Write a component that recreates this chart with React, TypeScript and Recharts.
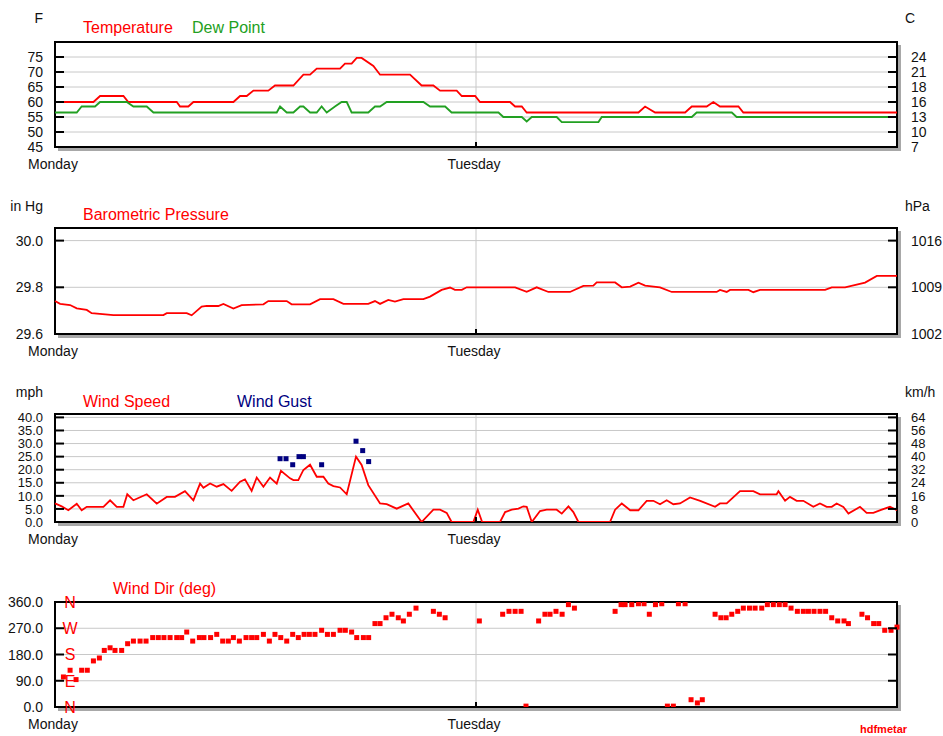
import React from "react";
import {
  ComposedChart,
  Line,
  Scatter,
  XAxis,
  YAxis,
  CartesianGrid,
  ReferenceArea,
} from "recharts";

const W = 943;
const FONT = '"Liberation Sans", Arial, Helvetica, sans-serif';
const RED = "#ff0000";
const GREEN = "#22a022";
const NAVY = "#000080";
const GRID = "#c8c8c8";

// x values are hours since Monday 00:00
const dayTicks = [0, 24];
const dayNames = ["Monday", "Tuesday"];

const tempF: [number, number][] = [
  [0, 60], [2.19, 60], [2.57, 62], [3.9, 62], [4.18, 60], [6.94, 60], [7.13, 58.5],
  [7.6, 58.5], [7.89, 60], [10.17, 60], [10.55, 62], [10.93, 62], [11.31, 63.8],
  [12.16, 63.8], [12.54, 65.5], [13.59, 65.5], [14.16, 69.1], [14.54, 69.1],
  [14.92, 71.1], [16.25, 71.1], [16.53, 72.8], [16.91, 72.8], [17.2, 74.7],
  [17.48, 74.7], [18.15, 72], [18.53, 69.1], [20.24, 69.1], [20.9, 65.5],
  [21.57, 65.5], [21.95, 63.8], [22.9, 63.8], [23.19, 62], [23.95, 62], [24.23, 60],
  [25.94, 60], [26.23, 58.5], [26.61, 58.5], [26.89, 56.5], [33.26, 56.5],
  [33.64, 58.5], [34.21, 56.5], [35.92, 56.5], [36.3, 58.5], [37.15, 58.5],
  [37.53, 60], [37.91, 58.5], [38.96, 58.5], [39.24, 56.5], [48, 56.5],
];

const dewF: [number, number][] = [
  [0, 56.5], [1.24, 56.5], [1.52, 58.5], [2.28, 58.5], [2.57, 60], [4.09, 60],
  [4.47, 58.5], [5.23, 58.5], [5.61, 56.5], [12.64, 56.5], [12.83, 58.5],
  [13.21, 56.5], [13.59, 56.5], [13.97, 58.5], [14.16, 58.5], [14.54, 56.5],
  [14.92, 56.5], [15.2, 58.5], [15.49, 56.5], [15.96, 58.5], [16.34, 60],
  [16.63, 60], [16.91, 56.5], [17.86, 56.5], [18.24, 58.5], [18.53, 58.5],
  [18.91, 60], [21, 60], [21.38, 58.5], [22.24, 58.5], [22.61, 56.5], [25.28, 56.5],
  [25.56, 55], [26.61, 55], [26.89, 53.5], [27.18, 55], [28.6, 55], [28.89, 53.3],
  [30.98, 53.3], [31.17, 55], [36.3, 55], [36.58, 56.5], [38.58, 56.5],
  [38.86, 55], [48, 55],
];

const pressureInHg: [number, number][] = [
  [0, 29.741], [0.29, 29.729], [0.86, 29.724], [1.24, 29.71], [1.81, 29.703],
  [2.09, 29.689], [3.33, 29.681], [6.18, 29.681], [6.37, 29.689], [7.51, 29.689],
  [7.79, 29.68], [8.36, 29.717], [8.65, 29.72], [9.31, 29.72], [9.6, 29.729],
  [10.17, 29.709], [10.64, 29.724], [11.88, 29.727], [12.16, 29.741],
  [13.21, 29.741], [13.49, 29.727], [14.54, 29.727], [15.11, 29.749],
  [15.87, 29.749], [16.44, 29.729], [17.86, 29.729], [18.24, 29.741],
  [18.53, 29.729], [19.0, 29.746], [19.38, 29.739], [19.86, 29.749], [21.0, 29.749],
  [21.38, 29.76], [22.04, 29.789], [22.52, 29.799], [22.8, 29.789], [23.19, 29.789],
  [23.47, 29.8], [26.23, 29.8], [26.89, 29.781], [27.46, 29.8], [28.13, 29.78],
  [29.36, 29.78], [30.12, 29.806], [30.69, 29.807], [30.88, 29.821], [31.93, 29.821],
  [32.31, 29.8], [32.79, 29.803], [33.26, 29.82], [33.64, 29.807], [34.49, 29.8],
  [35.16, 29.78], [37.72, 29.78], [37.91, 29.789], [38.29, 29.78], [38.48, 29.789],
  [39.53, 29.789], [39.81, 29.779], [40.19, 29.789], [43.9, 29.789], [44.28, 29.8],
  [45.04, 29.8], [46.18, 29.82], [46.85, 29.849], [48, 29.849],
];

const windMph: [number, number][] = [
  [0, 7.1], [0.38, 6], [0.76, 4.5], [1.24, 7], [1.52, 4.5], [1.81, 5.8], [2.76, 5.8],
  [3.14, 8.3], [3.52, 5.8], [3.9, 5.8], [4.12, 10.6], [4.47, 8.3], [5.23, 10.6],
  [5.8, 7], [6.37, 9.6], [6.84, 9.6], [7.41, 11.8], [7.89, 8.3], [8.27, 14.7],
  [8.46, 13.1], [8.84, 14.7], [9.22, 13.5], [9.6, 14.5], [10.07, 11.9], [10.55, 15.4],
  [10.83, 16.3], [11.21, 11.9], [11.5, 17], [11.88, 13.5], [12.26, 17], [12.64, 14.7],
  [12.88, 19.6], [13.4, 16.7], [13.59, 16], [13.87, 16], [14.16, 19.9], [14.54, 21.9],
  [14.92, 17.3], [15.3, 17.3], [15.58, 14.7], [15.87, 13.7], [16.25, 13.2],
  [16.63, 10.6], [17.16, 25], [17.48, 21.8], [17.86, 14.1], [18.53, 7.1],
  [18.91, 6.8], [19.48, 5.1], [20.14, 7.1], [20.9, 0], [21.57, 4.7], [21.95, 4.7],
  [22.33, 3.5], [22.61, 0], [23.85, 0], [24.1, 4.7], [24.35, 0], [25.37, 0],
  [25.66, 3.8], [26.04, 4.7], [26.42, 5.1], [26.7, 6], [26.89, 5.8], [27.18, 0],
  [27.65, 4.2], [28.03, 4.7], [28.6, 4.7], [28.89, 3.2], [29.27, 6], [29.55, 3.8],
  [29.84, 0], [31.64, 0], [31.93, 4.7], [32.31, 7.1], [32.79, 4.5], [33.26, 4.5],
  [33.73, 8.1], [34.11, 8.1], [34.49, 6.8], [34.87, 8.3], [35.25, 6.8], [35.63, 7.1],
  [36.2, 9.4], [36.78, 8.1], [37.63, 5.8], [37.91, 7.1], [38.29, 7.1], [39.05, 11.8],
  [39.81, 11.8], [40.19, 10.6], [41.14, 10.6], [41.24, 11.8], [41.62, 8.1],
  [41.9, 9.6], [42.28, 8.1], [42.66, 8.1], [43.23, 5.8], [43.61, 7.1], [43.99, 5.8],
  [44.28, 5.8], [44.56, 7.1], [44.94, 5.8], [45.23, 3.2], [45.89, 5.8], [46.27, 3.5],
  [46.65, 3.5], [47.13, 4.7], [47.6, 5.8], [48, 4.5],
];

const gustMph: [number, number][] = [
  [12.83, 24.2], [13.17, 24.2], [13.55, 21.9], [13.91, 25], [14.16, 25],
  [15.2, 21.9], [17.16, 30.9], [17.54, 27.3], [17.88, 23.1],
];

const windDirDeg: [number, number][] = [
  [0.48, 103], [0.86, 126], [1.2, 94], [1.52, 126], [1.84, 126], [2.19, 158],
  [2.53, 168], [2.81, 194], [3.14, 203], [3.42, 194], [3.8, 194], [4.14, 217],
  [4.47, 226], [4.85, 226], [5.19, 226], [5.57, 238], [5.89, 238], [6.21, 238],
  [6.56, 238], [6.94, 238], [7.22, 238], [7.51, 257], [7.85, 226], [8.23, 238],
  [8.49, 238], [8.87, 238], [9.22, 249], [9.56, 226], [9.88, 226], [10.17, 238],
  [10.51, 226], [10.89, 238], [11.21, 238], [11.5, 238], [11.88, 249], [12.22, 226],
  [12.54, 249], [12.87, 238], [13.21, 226], [13.55, 249], [13.87, 238], [14.2, 249],
  [14.5, 249], [14.82, 249], [15.2, 263], [15.53, 249], [15.87, 249], [16.25, 263],
  [16.55, 263], [16.91, 257], [17.2, 238], [17.58, 238], [17.88, 238], [18.24, 286],
  [18.53, 286], [18.87, 306], [19.21, 318], [19.57, 306], [19.86, 295], [20.2, 318],
  [20.58, 339], [21.57, 328], [21.91, 318], [22.24, 306], [24.19, 295], [25.52, 318],
  [25.88, 328], [26.23, 328], [26.57, 328], [26.85, 3], [27.57, 295], [27.93, 318],
  [28.22, 318], [28.56, 328], [28.91, 318], [29.27, 351], [29.61, 339], [31.93, 328],
  [32.27, 351], [32.5, 351], [32.88, 351], [33.26, 354], [33.58, 354], [33.88, 318],
  [34.23, 351], [34.59, 354], [34.91, 3], [35.25, 3], [35.54, 354], [35.92, 354],
  [36.26, 25], [36.62, 14], [36.9, 25], [37.63, 318], [37.96, 306], [38.26, 306],
  [38.58, 318], [38.92, 328], [39.24, 339], [39.59, 339], [39.91, 339], [40.29, 339],
  [40.61, 351], [40.95, 351], [41.29, 351], [41.62, 351], [41.96, 339], [42.32, 328],
  [42.66, 328], [42.95, 328], [43.27, 328], [43.61, 328], [43.93, 328], [44.28, 306],
  [44.62, 295], [44.98, 295], [45.23, 286], [46.0, 318], [46.32, 306], [46.67, 286],
  [46.96, 286], [47.3, 263], [47.66, 263], [48.0, 274],
];

const tempTicks = [45, 50, 55, 60, 65, 70, 75];
const pressTicks = [29.6, 29.8, 30.0];
const windTicks = [0, 5, 10, 15, 20, 25, 30, 35, 40];
const dirTicks = [0, 90, 180, 270, 360];
const compass = ["N", "E", "S", "W", "N"];

const pts = (a: [number, number][]) => a.map(([t, v]) => ({ t, v }));

function DayTick(props: any) {
  const { x, y, payload } = props;
  const i = dayTicks.indexOf(payload.value);
  return (
    <g>
      <line x1={x} x2={x} y1={y} y2={y - 5} stroke="#000" strokeWidth={2} />
      <text x={x - 2} y={y + 12} dy="0.71em" textAnchor="middle" fontSize={14} fontFamily={FONT} fill="#111">
        {dayNames[i] ?? ""}
      </text>
    </g>
  );
}

function LeftTick(props: any) {
  const { x, y, payload, fmt, letters, size = 14 } = props;
  const i = dirTicks.indexOf(payload.value);
  return (
    <g>
      <line x1={x} x2={x + 9} y1={y} y2={y} stroke="#000" strokeWidth={2} />
      <text x={x - 12} y={y} dy="0.36em" textAnchor="end" fontSize={size} fontFamily={FONT} fill="#111">
        {fmt(payload.value)}
      </text>
      {letters && i >= 0 ? (
        <text x={x + 15} y={y} dy="0.36em" textAnchor="middle" fontSize={16} fontFamily={FONT} fill={RED}>
          {compass[i]}
        </text>
      ) : null}
    </g>
  );
}

function RightTick(props: any) {
  const { x, y, payload, fmt, size = 14 } = props;
  return (
    <g>
      <line x1={x} x2={x - 9} y1={y} y2={y} stroke="#000" strokeWidth={2} />
      {fmt ? (
        <text x={x + 14} y={y} dy="0.36em" textAnchor="start" fontSize={size} fontFamily={FONT} fill="#111">
          {fmt(payload.value)}
        </text>
      ) : null}
    </g>
  );
}

function Frame(props: any) {
  const { x, y, width, height } = props;
  return (
    <g>
      <line x1={x + width + 2.5} x2={x + width + 2.5} y1={y + 3} y2={y + height + 4} stroke="#a8a8a8" strokeWidth={3} />
      <line x1={x + 3} x2={x + width + 4} y1={y + height + 2.5} y2={y + height + 2.5} stroke="#a8a8a8" strokeWidth={3} />
      <rect x={x} y={y} width={width} height={height} fill="none" stroke="#000" strokeWidth={2} />
    </g>
  );
}

function Square(props: any) {
  const { cx, cy, fill } = props;
  return <rect x={cx - 2.5} y={cy - 2.5} width={5} height={5} fill={fill} />;
}

interface PanelProps {
  top: number;
  height: number;
  plotTop: number;
  domain: [number, number];
  ticks: number[];
  leftFmt: (v: number) => string;
  rightFmt?: (v: number) => string;
  letters?: boolean;
  tickSize?: number;
  children: React.ReactNode;
}

function Panel(props: PanelProps) {
  const { top, height, plotTop, domain, ticks, leftFmt, rightFmt, letters, tickSize = 14, children } = props;
  return (
    <div style={{ position: "absolute", left: 0, top }}>
      <ComposedChart width={W} height={height} margin={{ top: plotTop, right: 0, bottom: 0, left: 0 }}>
        <CartesianGrid yAxisId="l" stroke={GRID} strokeWidth={1} />
        <XAxis
          dataKey="t"
          type="number"
          domain={[0, 48]}
          ticks={dayTicks}
          interval={0}
          height={28}
          axisLine={false}
          tickLine={false}
          tickSize={0}
          tickMargin={0}
          tick={<DayTick />}
        />
        <YAxis
          yAxisId="l"
          type="number"
          domain={domain}
          ticks={ticks}
          interval={0}
          width={55}
          axisLine={false}
          tickLine={false}
          tickSize={0}
          tickMargin={0}
          allowDataOverflow
          tick={<LeftTick fmt={leftFmt} letters={letters} size={tickSize} />}
        />
        <YAxis
          yAxisId="r"
          orientation="right"
          type="number"
          domain={domain}
          ticks={ticks}
          interval={0}
          width={46}
          axisLine={false}
          tickLine={false}
          tickSize={0}
          tickMargin={0}
          allowDataOverflow
          tick={<RightTick fmt={rightFmt} size={tickSize} />}
        />
        {children}
        <ReferenceArea
          yAxisId="l"
          x1={0}
          x2={48}
          y1={domain[0]}
          y2={domain[1]}
          ifOverflow="visible"
          shape={<Frame />}
        />
      </ComposedChart>
    </div>
  );
}

function Label(props: { x: number; y: number; text: string; color?: string; size?: number; right?: boolean; bold?: boolean }) {
  const { x, y, text, color = "#111", size = 14, right, bold } = props;
  const style: React.CSSProperties = {
    position: "absolute",
    top: y,
    fontFamily: FONT,
    fontSize: size,
    lineHeight: `${size}px`,
    color,
    whiteSpace: "nowrap",
    fontWeight: bold ? "bold" : "normal",
  };
  if (right) style.right = W - x;
  else style.left = x;
  return <div style={style}>{text}</div>;
}

const fmtInt = (v: number) => String(v);
const fmt1 = (v: number) => v.toFixed(1);
const toC = (v: number) => String(Math.round(((v - 32) * 5) / 9));
const toHpa = (v: number) => String(Math.round(v * 33.8639));
const toKmh = (v: number) => String(Math.round(v * 1.609344));

export default function App() {
  return (
    <div style={{ position: "absolute", left: 0, top: 0, width: W, height: 736, background: "#fff", overflow: "hidden" }}>
      <Panel top={0} height={175} plotTop={42} domain={[45, 80]} ticks={tempTicks} leftFmt={fmtInt} rightFmt={toC}>
        <Line yAxisId="l" data={pts(tempF)} dataKey="v" type="linear" stroke={RED} strokeWidth={1.8} dot={false} isAnimationActive={false} />
        <Line yAxisId="l" data={pts(dewF)} dataKey="v" type="linear" stroke={GREEN} strokeWidth={1.8} dot={false} isAnimationActive={false} />
      </Panel>
      <Panel top={180} height={182} plotTop={48} domain={[29.6, 30.054]} ticks={pressTicks} leftFmt={fmt1} rightFmt={toHpa}>
        <Line yAxisId="l" data={pts(pressureInHg)} dataKey="v" type="linear" stroke={RED} strokeWidth={1.8} dot={false} isAnimationActive={false} />
      </Panel>
      <Panel top={370} height={180} plotTop={44} domain={[0, 41.3]} ticks={windTicks} leftFmt={fmt1} rightFmt={toKmh} tickSize={13}>
        <Line yAxisId="l" data={pts(windMph)} dataKey="v" type="linear" stroke={RED} strokeWidth={1.8} dot={false} isAnimationActive={false} />
        <Scatter yAxisId="l" data={pts(gustMph)} dataKey="v" fill={NAVY} shape={<Square />} isAnimationActive={false} />
      </Panel>
      <Panel top={560} height={175} plotTop={42} domain={[0, 360]} ticks={dirTicks} leftFmt={fmt1} letters>
        <Scatter yAxisId="l" data={pts(windDirDeg)} dataKey="v" fill={RED} shape={<Square />} isAnimationActive={false} />
      </Panel>

      <Label x={43} y={11} text="F" right />
      <Label x={83} y={20} text="Temperature" color={RED} size={16} />
      <Label x={192} y={20} text="Dew Point" color={GREEN} size={16} />
      <Label x={905} y={11} text="C" />

      <Label x={43} y={199} text="in Hg" right />
      <Label x={83} y={207} text="Barometric Pressure" color={RED} size={16} />
      <Label x={905} y={199} text="hPa" />

      <Label x={43} y={385} text="mph" right />
      <Label x={83} y={394} text="Wind Speed" color={RED} size={16} />
      <Label x={237} y={394} text="Wind Gust" color={NAVY} size={16} />
      <Label x={905} y={385} text="km/h" />

      <Label x={113} y={581} text="Wind Dir (deg)" color={RED} size={16} />
      <Label x={860} y={724} text="hdfmetar" color={RED} size={11} bold />
    </div>
  );
}
